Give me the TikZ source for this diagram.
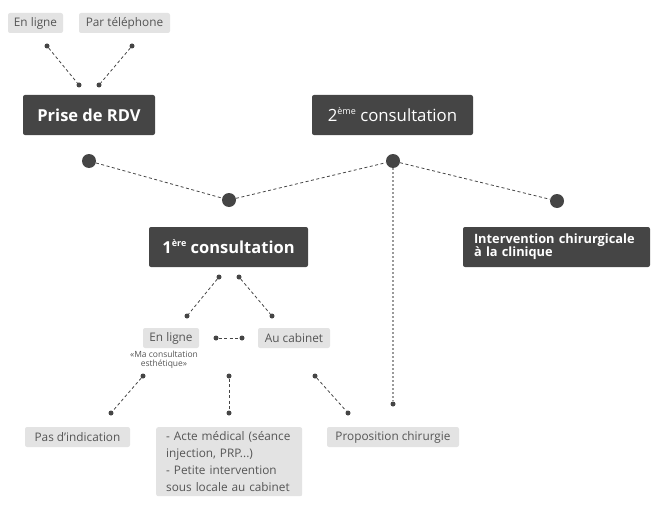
\documentclass[tikz,border=0pt]{standalone}
\usepackage{fontspec}
\setmainfont{Open Sans}
\definecolor{boxdark}{HTML}{454545}
\definecolor{boxlight}{HTML}{E3E3E3}
\definecolor{textgray}{HTML}{555555}
\definecolor{linegray}{HTML}{9A9A9A}
\newcommand{\ordsup}[1]{\raisebox{0.75ex}{\fontsize{9}{9}\selectfont #1}}
\begin{document}
\begin{tikzpicture}[x=1pt, y=-1pt,
    darkbox/.style={fill=boxdark, text=white, rounded corners=2pt, minimum height=40pt, inner sep=0pt},
    lightbox/.style={fill=boxlight, text=textgray, rounded corners=2pt, minimum height=20pt, inner sep=0pt, font=\fontsize{11.8}{14}\selectfont},
    bigdot/.style={circle, fill=boxdark, inner sep=0pt, minimum size=14pt},
    smalldot/.style={circle, fill=boxdark, inner sep=0pt, minimum size=5pt},
    link/.style={boxdark, line width=0.8pt, dash pattern=on 3pt off 2.5pt}]

        \useasboundingbox (0,0) rectangle (655,508);

        % --- Top row: booking channels ---
        \node[lightbox, minimum width=55pt] (web) at (35.5, 23) {En ligne};
        \node[lightbox, minimum width=91pt] (phone) at (124.5, 23) {Par téléphone};
        \node[smalldot] (webA) at (47, 46) {};
        \node[smalldot] (phoneA) at (132, 46) {};
        \node[smalldot] (webB) at (79, 85) {};
        \node[smalldot] (phoneB) at (99, 85) {};
        \draw[link] (webA) -- (webB);
        \draw[link] (phoneA) -- (phoneB);

        % --- Main steps ---
        \node[darkbox, minimum width=132pt, font=\fontsize{16.5}{19}\selectfont\bfseries] (rdv) at (89, 115) {Prise de RDV};
        \node[darkbox, minimum width=161pt, font=\fontsize{16.8}{19}\selectfont] (second) at (392.5, 115) {2\ordsup{ème} consultation};
        \node[darkbox, minimum width=159pt, font=\fontsize{16.5}{19}\selectfont\bfseries] (first) at (228.5, 247) {1\ordsup{ère} consultation};
        \node[darkbox, minimum width=187pt, text width=165pt, align=left, font=\fontsize{12.8}{13}\selectfont\bfseries] (clinic) at (556.5, 247)
            {Intervention chirurgicale\\à la clinique};

        % --- Big junction dots ---
        \node[bigdot] (rdvdot) at (89, 161) {};
        \node[bigdot] (firstdot) at (229, 200) {};
        \node[bigdot] (seconddot) at (393, 161) {};
        \node[bigdot] (clinicdot) at (557, 201) {};
        \draw[link] (rdvdot) -- (firstdot);
        \draw[link] (firstdot) -- (seconddot);
        \draw[link] (seconddot) -- (clinicdot);

        % --- First consultation branches ---
        \node[smalldot] (firstL) at (219, 277) {};
        \node[smalldot] (firstR) at (239, 277) {};
        \node[smalldot] (onlineA) at (187, 316) {};
        \node[smalldot] (officeA) at (272, 316) {};
        \draw[link] (firstL) -- (onlineA);
        \draw[link] (firstR) -- (officeA);

        \node[lightbox, minimum width=56pt] (online) at (171, 338) {En ligne};
        \node[lightbox, minimum width=72pt] (office) at (294, 338) {Au cabinet};
        \node[text=textgray, align=center, inner sep=0pt, font=\fontsize{8.5}{9.5}\selectfont] (onlinenote) at (164, 360)
            {«Ma consultation\\esthétique»};
        \node[smalldot] (midL) at (216, 338) {};
        \node[smalldot] (midR) at (242, 338) {};
        \draw[link] (midL) -- (midR);

        % --- Outcomes ---
        \node[smalldot] (outA1) at (143, 376) {};
        \node[smalldot] (outA2) at (111, 413) {};
        \node[smalldot] (outB1) at (229, 376) {};
        \node[smalldot] (outB2) at (229, 413) {};
        \node[smalldot] (outC1) at (315, 376) {};
        \node[smalldot] (outC2) at (348, 413) {};
        \node[smalldot] (surgdot) at (393, 404) {};
        \draw[link] (outA1) -- (outA2);
        \draw[link] (outB1) -- (outB2);
        \draw[link] (outC1) -- (outC2);
        \draw[linegray, line width=1.2pt, dash pattern=on 2pt off 2pt] (seconddot) -- (surgdot);

        \node[lightbox, minimum width=105pt] (noind) at (77.5, 437) {Pas d’indication};
        \node[lightbox, anchor=north west, minimum width=146pt, minimum height=69pt, text width=126pt,
            align=left, font=\fontsize{11.8}{17}\selectfont] (acts) at (156, 427)
            {- Acte médical (séance\\injection, PRP...)\\- Petite intervention\\sous locale au cabinet};
        \node[lightbox, minimum width=132pt] (surgery) at (393, 437) {Proposition chirurgie};

    \end{tikzpicture}
\end{document}
